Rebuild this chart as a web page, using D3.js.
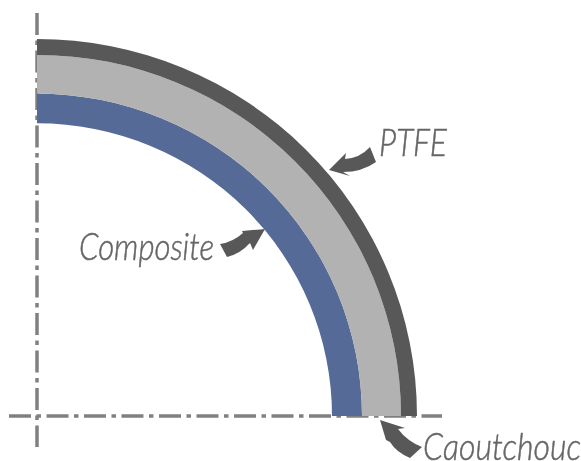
<!DOCTYPE html>
<html>
<head>
<meta charset="utf-8">
<script src="https://cdn.jsdelivr.net/npm/d3@7"></script>
<style>
  html, body { margin: 0; padding: 0; background: #fff; overflow: hidden; }
  svg { display: block; }
  text { font-family: Lato, "Open Sans", sans-serif; font-style: italic; font-weight: 300; fill: #666; stroke: #666; stroke-width: 0.5; }
</style>
</head>
<body>
<div id="visbox"></div>
<script>
// layers of the pipe wall, inside to outside
const layers = ["Composite", "Caoutchouc", "PTFE"];
const innerRadius = [295, 325, 364];
const outerRadius = [325, 364, 380];

const labels = ["Composite", "PTFE", "Caoutchouc"];

const width = 581;
const height = 461;
const center = { x: 37, y: 416 };

const svg = d3.select("#visbox").append("svg")
  .attr("width", width)
  .attr("height", height);

svg.append("defs").append("filter")
  .attr("id", "soft")
  .append("feGaussianBlur")
  .attr("stdDeviation", 0.6);

const chart = svg.append("g").attr("filter", "url(#soft)");

const radius = d3.scaleLinear().domain([0, 380]).range([0, 380]);
const color = d3.scaleOrdinal()
  .domain(layers)
  .range(["#556a96", "#b1b2b1", "#595959"]);

// centre lines
const axisStyle = (sel) => sel
  .attr("stroke", "#808080")
  .attr("stroke-width", 3.5)
  .attr("stroke-dasharray", "22 5.5 4.5 5.5");

chart.append("line")
  .attr("x1", center.x).attr("x2", center.x)
  .attr("y1", 13).attr("y2", 447)
  .call(axisStyle);

chart.append("line")
  .attr("x1", 9).attr("x2", 442)
  .attr("y1", center.y).attr("y2", center.y)
  .call(axisStyle);

// quarter rings
const arc = d3.arc()
  .innerRadius((d, i) => radius(innerRadius[i]))
  .outerRadius((d, i) => radius(outerRadius[i]))
  .startAngle(0)
  .endAngle(Math.PI / 2);

chart.append("g")
  .attr("transform", `translate(${center.x},${center.y}) scale(1,0.992)`)
  .selectAll("path")
  .data(layers)
  .join("path")
  .attr("d", arc)
  .attr("fill", (d) => color(d));

// curved arrows pointing at each layer
const arrows = [
  "M220,244 Q233,242 243,233 L242,231 L265,229 L253,250 L250,243 Q240,254 227,257 Z",
  "M329,170 L346,153 L345,159 Q360,158 370,147 L376,162 Q362,172 343,172 L350,176 Z",
  "M380,420 L405,428 L398,429 Q407,441 422,447 L410,458 Q396,452 390,442 L386,440 Z"
];

chart.append("g")
  .selectAll("path")
  .data(arrows)
  .join("path")
  .attr("d", (d) => d)
  .attr("fill", "#595959");

const labelPos = [
  { x: 79, y: 260, len: 135 },
  { x: 379, y: 156, len: 68 },
  { x: 423, y: 460, len: 158 }
];

chart.append("g")
  .selectAll("text")
  .data(labels)
  .join("text")
  .attr("x", (d, i) => labelPos[i].x)
  .attr("y", (d, i) => labelPos[i].y)
  .attr("font-size", 37)
  .attr("textLength", (d, i) => labelPos[i].len)
  .attr("lengthAdjust", "spacingAndGlyphs")
  .text((d) => d);
</script>
</body>
</html>
